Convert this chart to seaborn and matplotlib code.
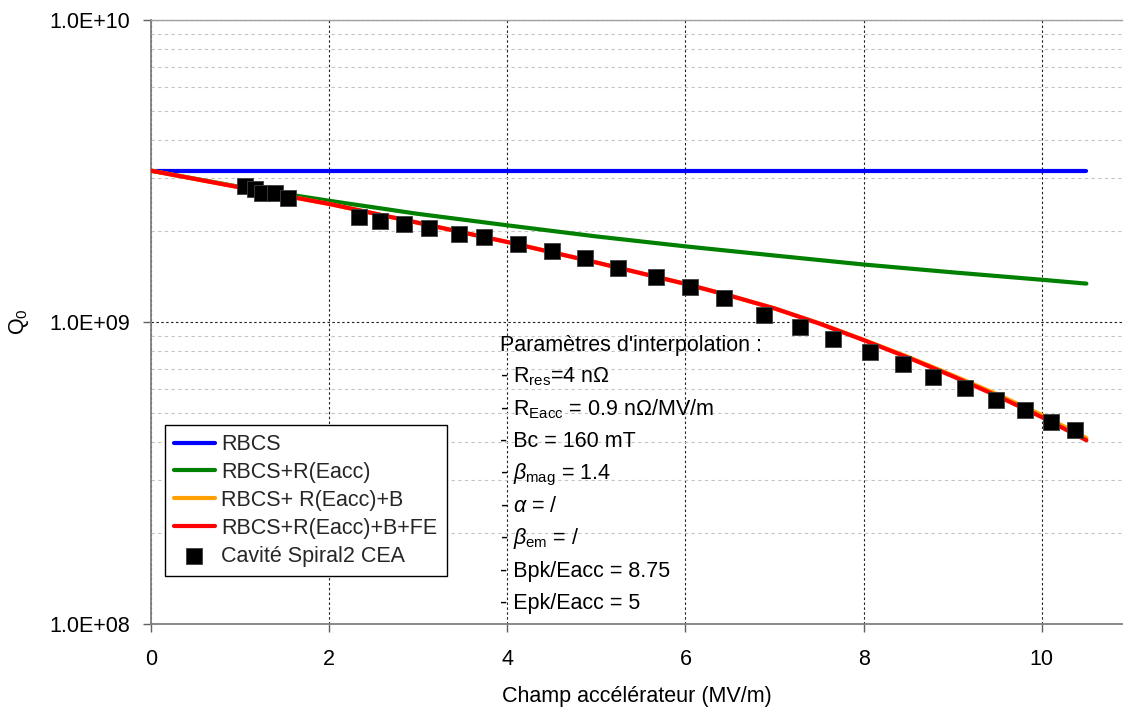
import matplotlib
matplotlib.use("Agg")
import matplotlib.pyplot as plt
import seaborn as sns
from matplotlib.ticker import FixedLocator, FuncFormatter, NullFormatter, LogLocator

# ---------------- data ----------------
field_curve = [0, 1, 2, 3, 4, 5, 6, 7, 8, 9, 10, 10.5]
q_rbcs = [3.17e9, 3.17e9, 3.17e9, 3.17e9, 3.17e9, 3.17e9,
          3.17e9, 3.17e9, 3.17e9, 3.17e9, 3.17e9, 3.17e9]
q_reacc = [3.17e9, 2.80e9, 2.52e9, 2.28e9, 2.09e9, 1.92e9,
           1.78e9, 1.66e9, 1.55e9, 1.46e9, 1.38e9, 1.34e9]

field_curve_b = [0, 1, 2, 3, 4, 5, 6, 6.5, 7, 7.5, 8, 8.5, 9, 9.5, 10, 10.5]
q_reacc_b = [3.17e9, 2.79e9, 2.46e9, 2.13e9, 1.84e9, 1.574e9, 1.337e9, 1.222e9,
             1.109e9, 9.90e8, 8.73e8, 7.66e8, 6.66e8, 5.76e8, 4.92e8, 4.13e8]
q_reacc_b_fe = [3.17e9, 2.79e9, 2.46e9, 2.13e9, 1.84e9, 1.574e9, 1.337e9, 1.222e9,
                1.109e9, 9.89e8, 8.71e8, 7.62e8, 6.61e8, 5.69e8, 4.84e8, 4.06e8]

field_meas = [1.05, 1.17, 1.25, 1.39, 1.54, 2.33, 2.57, 2.84, 3.12, 3.46,
              3.74, 4.12, 4.50, 4.87, 5.24, 5.67, 6.05, 6.43, 6.88, 7.29,
              7.66, 8.07, 8.44, 8.78, 9.14, 9.49, 9.81, 10.10, 10.37]
q_meas = [2.82e9, 2.75e9, 2.67e9, 2.67e9, 2.57e9, 2.23e9, 2.165e9, 2.107e9,
          2.053e9, 1.952e9, 1.908e9, 1.813e9, 1.722e9, 1.629e9, 1.513e9,
          1.406e9, 1.303e9, 1.198e9, 1.055e9, 9.60e8, 8.78e8, 7.94e8,
          7.26e8, 6.59e8, 6.03e8, 5.51e8, 5.11e8, 4.68e8, 4.39e8]

series_labels = ["RBCS", "RBCS+R(Eacc)", "RBCS+ R(Eacc)+B",
                 "RBCS+R(Eacc)+B+FE", "Cavité Spiral2 CEA"]
series_colors = ["#0000ff", "#008000", "#ffa000", "#ff0000"]

x_ticks = [0, 2, 4, 6, 8, 10]
y_ticks = [1e8, 1e9, 1e10]

param_lines = [
    "Paramètres d'interpolation :",
    "- R$_{\\mathrm{res}}$=4 nΩ",
    "- R$_{\\mathrm{Eacc}}$ = 0.9 nΩ/MV/m",
    "- Bc = 160 mT",
    "- $\\beta_{\\mathrm{mag}}$ = 1.4",
    "- $\\alpha$ = /",
    "- $\\beta_{\\mathrm{em}}$ = /",
    "- Bpk/Eacc = 8.75",
    "- Epk/Eacc = 5",
]

# ---------------- style ----------------
sns.set_theme(style="white")
plt.rcParams["font.family"] = ["Liberation Sans", "DejaVu Sans"]
plt.rcParams["mathtext.fontset"] = "custom"
plt.rcParams["mathtext.rm"] = "Liberation Sans"
plt.rcParams["mathtext.it"] = "Liberation Sans:italic"
plt.rcParams["mathtext.bf"] = "Liberation Sans:bold"

FS = 15.5
W, H = 1124, 711
fig = plt.figure(figsize=(W / 100, H / 100), dpi=100)
ax_l, ax_r, ax_t, ax_b = 151, 1122, 20, 624
ax = fig.add_axes([ax_l / W, (H - ax_b) / H, (ax_r - ax_l) / W, (ax_b - ax_t) / H])

xs = [field_curve, field_curve, field_curve_b, field_curve_b]
curves = [q_rbcs, q_reacc, q_reacc_b, q_reacc_b_fe]
for i, (xv, vals, col, lab) in enumerate(zip(xs, curves, series_colors, series_labels)):
    sns.lineplot(x=xv, y=vals, color=col, linewidth=3.0, label=lab,
                 ax=ax, zorder=2 + i)

sns.scatterplot(x=field_meas, y=q_meas, marker="s", s=118, color="black",
                edgecolor="#404040", linewidth=0.6, label=series_labels[4],
                ax=ax, zorder=10)

ax.set_yscale("log")
ax.set_xlim(0, 10.9)
ax.set_ylim(1e8, 1e10)

ax.xaxis.set_major_locator(FixedLocator(x_ticks))
ax.xaxis.set_major_formatter(FuncFormatter(lambda v, p: f"{v:g}"))
ax.yaxis.set_major_locator(FixedLocator(y_ticks))
ax.yaxis.set_major_formatter(FuncFormatter(lambda v, p: f"{v:.1E}"))
ax.yaxis.set_minor_locator(LogLocator(base=10, subs=range(2, 10)))
ax.yaxis.set_minor_formatter(NullFormatter())

ax.set_axisbelow(True)
ax.grid(which="major", axis="x", color="#202020", linestyle=(0, (2.2, 2.2)), linewidth=0.8)
ax.grid(which="major", axis="y", color="#202020", linestyle=(0, (2.2, 2.2)), linewidth=0.8)
ax.grid(which="minor", axis="y", color="#c4c4c4", linestyle=(0, (3, 3)), linewidth=0.8)

ax.tick_params(axis="x", which="major", direction="out", length=6, width=1,
               color="#606060", pad=12, labelsize=FS, bottom=True, labelcolor="black")
ax.tick_params(axis="y", which="major", direction="out", length=6, width=1,
               color="#606060", pad=9, labelsize=FS, left=True, labelcolor="black")
ax.tick_params(axis="y", which="minor", length=0, left=False)

for side in ["left", "bottom"]:
    ax.spines[side].set_color("#808080")
    ax.spines[side].set_linewidth(1.3)
ax.spines["top"].set_color("#a0a0a0")
ax.spines["top"].set_linewidth(1.0)
ax.spines["right"].set_visible(False)

ax.set_xlabel("Champ accélérateur (MV/m)", fontsize=FS, color="black")
ax.xaxis.set_label_coords(0.5, -0.103)
ax.set_ylabel("Q$_0$", fontsize=FS, color="black", va="center")
ax.yaxis.set_label_coords((19 - ax_l) / (ax_r - ax_l), 0.5)

handles, labels = ax.get_legend_handles_labels()
leg = ax.legend(handles, labels, loc="upper left",
                bbox_to_anchor=((165 - ax_l) / (ax_r - ax_l), (ax_b - 425) / (ax_b - ax_t)),
                borderaxespad=0, frameon=True, fancybox=False, edgecolor="black",
                framealpha=1, fontsize=FS, handlelength=1.9, handletextpad=0.3,
                labelspacing=0.32, borderpad=0.42, scatterpoints=1)
leg.get_frame().set_linewidth(1.0)
leg.set_zorder(20)

# parameter text block
x_txt = (500 - ax_l) / (ax_r - ax_l)
base0 = 350.5
for k, line in enumerate(param_lines):
    ypx = base0 + k * 32.3
    ax.text(x_txt, (ax_b - ypx) / (ax_b - ax_t), line, transform=ax.transAxes,
            ha="left", va="baseline", fontsize=FS, color="black", zorder=15)

fig.savefig("out.png", dpi=100)
